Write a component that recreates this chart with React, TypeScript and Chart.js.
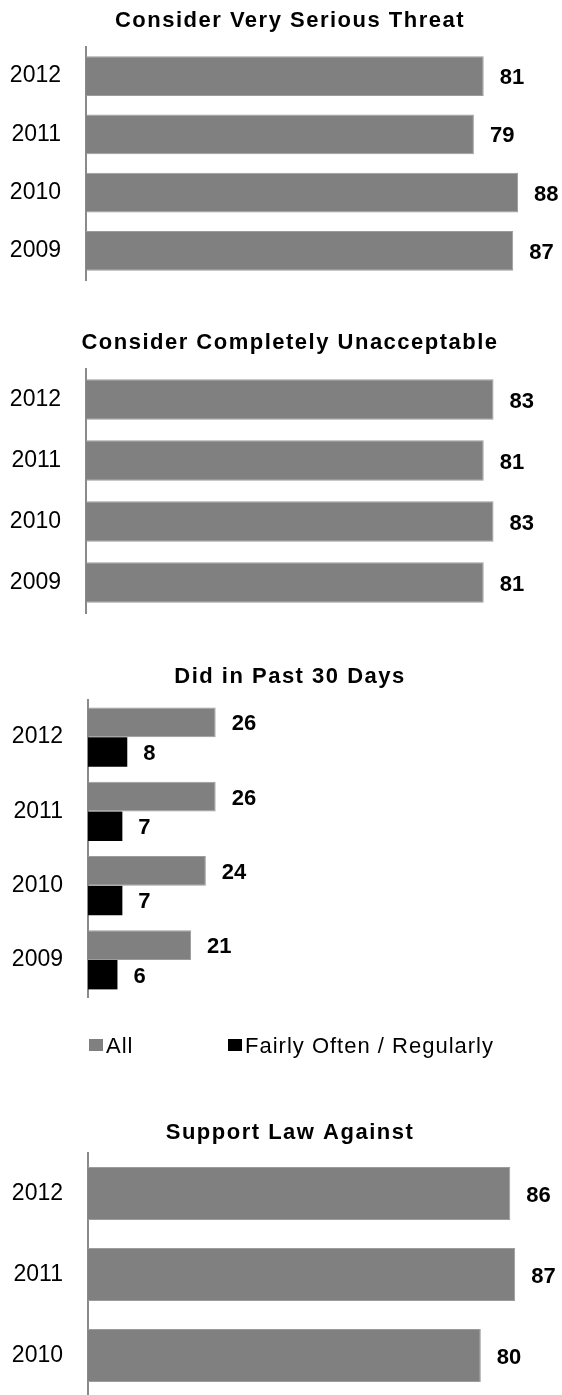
import React, { useEffect, useRef } from 'react';
import { Chart, registerables } from 'chart.js';

Chart.register(...registerables);

// ---- data ----
const years = ['2012', '2011', '2010', '2009'];
const supportYears = ['2012', '2011', '2010'];
const seriousThreat = [81, 79, 88, 87];
const unacceptable = [83, 81, 83, 81];
const past30All = [26, 26, 24, 21];
const past30Regular = [8, 7, 7, 6];
const supportLaw = [86, 87, 80];
const seriesNames = ['All', 'Fairly Often / Regularly'];
const titles = [
  'Consider Very Serious Threat',
  'Consider Completely Unacceptable',
  'Did in Past 30 Days',
  'Support Law Against',
];

const FONT = '"Liberation Sans", Arial, Helvetica, sans-serif';
const GREY = '#808080';
const BLACK = '#000000';

type DS = { label: string; data: number[]; color: string; border: string; bw: number };

type Props = {
  labels: string[];
  datasets: DS[];
  title: string;
  top: number;
  height: number;
  padTop: number;
  padBottom: number;
  axisWidth: number;
  titleBaseline: number;
  barPct: number;
  catPct: number;
  legend?: { y: number; xs: number[] };
};

const CANVAS_W = 600;
const PX_PER_UNIT = 4.91;
const X_MAX = 100;

function BarChart(p: Props) {
  const ref = useRef<HTMLCanvasElement | null>(null);
  useEffect(() => {
    if (!ref.current) return;
    const padRight = CANVAS_W - (p.axisWidth + PX_PER_UNIT * X_MAX);

    const labelPlugin = {
      id: 'valueLabels',
      afterDatasetsDraw(chart: any) {
        const ctx = chart.ctx;
        ctx.save();
        ctx.font = `bold 22px ${FONT}`;
        ctx.fillStyle = '#000';
        ctx.textAlign = 'left';
        ctx.textBaseline = 'middle';
        chart.data.datasets.forEach((ds: any, i: number) => {
          const meta = chart.getDatasetMeta(i);
          meta.data.forEach((el: any, j: number) => {
            ctx.fillText(String(ds.data[j]), el.x + 16, el.y + 2);
          });
        });
        ctx.restore();
      },
    };

    const titlePlugin = {
      id: 'customTitle',
      afterDraw(chart: any) {
        const ctx = chart.ctx;
        ctx.save();
        ctx.font = `bold 22px ${FONT}`;
        (ctx as any).letterSpacing = '1.5px';
        ctx.fillStyle = '#000';
        ctx.textAlign = 'center';
        ctx.textBaseline = 'alphabetic';
        ctx.fillText(p.title, 290, p.titleBaseline);
        ctx.restore();
      },
    };

    const legendPlugin = {
      id: 'customLegend',
      afterDraw(chart: any) {
        if (!p.legend) return;
        const ctx = chart.ctx;
        ctx.save();
        ctx.font = `22px ${FONT}`;
        (ctx as any).letterSpacing = '1px';
        ctx.textAlign = 'left';
        ctx.textBaseline = 'alphabetic';
        chart.data.datasets.forEach((ds: any, i: number) => {
          const x = p.legend!.xs[i];
          ctx.fillStyle = ds.backgroundColor;
          ctx.fillRect(x, p.legend!.y, 14, 12);
          ctx.fillStyle = '#000';
          ctx.fillText(ds.label, x + 17, p.legend!.y + 14);
        });
        ctx.restore();
      },
    };

    const chart = new Chart(ref.current, {
      type: 'bar',
      data: {
        labels: p.labels,
        datasets: p.datasets.map((d) => ({
          label: d.label,
          data: d.data,
          backgroundColor: d.color,
          borderColor: d.border,
          borderWidth: d.bw,
          barPercentage: p.barPct,
          categoryPercentage: p.catPct,
        })),
      },
      options: {
        indexAxis: 'y',
        responsive: false,
        animation: false,
        layout: { padding: { top: p.padTop, bottom: p.padBottom, left: 0, right: padRight } },
        plugins: {
          legend: { display: false },
          tooltip: { enabled: false },
          title: { display: false },
        },
        scales: {
          x: { display: false, min: 0, max: X_MAX },
          y: {
            afterFit: (s: any) => {
              s.width = p.axisWidth;
              s.paddingTop = 0;
              s.paddingBottom = 0;
            },
            grid: { display: false, drawTicks: false },
            border: { display: true, color: '#8a8a8a', width: 2 },
            ticks: { color: '#000', font: { family: FONT, size: 23 }, padding: 25 },
          },
        },
      } as any,
      plugins: [labelPlugin, titlePlugin, legendPlugin],
    });
    return () => chart.destroy();
  }, []);
  return (
    <canvas
      ref={ref}
      width={CANVAS_W}
      height={p.height}
      style={{ position: 'absolute', left: 0, top: p.top, width: CANVAS_W, height: p.height }}
    />
  );
}

export default function App() {
  const greyDs = (label: string, data: number[]): DS => ({ label, data, color: GREY, border: '#9c9c9c', bw: 1 });
  return (
    <div style={{ position: 'absolute', left: 0, top: 0, width: 562, height: 1395, overflow: 'hidden', background: '#fff' }}>
      <BarChart
        labels={years}
        datasets={[greyDs(seriesNames[0], seriousThreat)]}
        title={titles[0]}
        top={0}
        height={300}
        padTop={47}
        padBottom={20}
        axisWidth={86}
        titleBaseline={27}
        barPct={0.68}
        catPct={1}
      />
      <BarChart
        labels={years}
        datasets={[greyDs(seriesNames[0], unacceptable)]}
        title={titles[1]}
        top={300}
        height={340}
        padTop={69}
        padBottom={27}
        axisWidth={86}
        titleBaseline={49}
        barPct={0.665}
        catPct={1}
      />
      <BarChart
        labels={years}
        datasets={[
          greyDs(seriesNames[0], past30All),
          { label: seriesNames[1], data: past30Regular, color: BLACK, border: BLACK, bw: 0 },
        ]}
        title={titles[2]}
        top={640}
        height={430}
        padTop={60}
        padBottom={73}
        axisWidth={88}
        titleBaseline={43}
        barPct={1}
        catPct={0.795}
        legend={{ y: 399, xs: [89, 228] }}
      />
      <BarChart
        labels={supportYears}
        datasets={[greyDs(seriesNames[0], supportLaw)]}
        title={titles[3]}
        top={1070}
        height={330}
        padTop={83}
        padBottom={4}
        axisWidth={88}
        titleBaseline={69}
        barPct={0.655}
        catPct={1}
      />
    </div>
  );
}
